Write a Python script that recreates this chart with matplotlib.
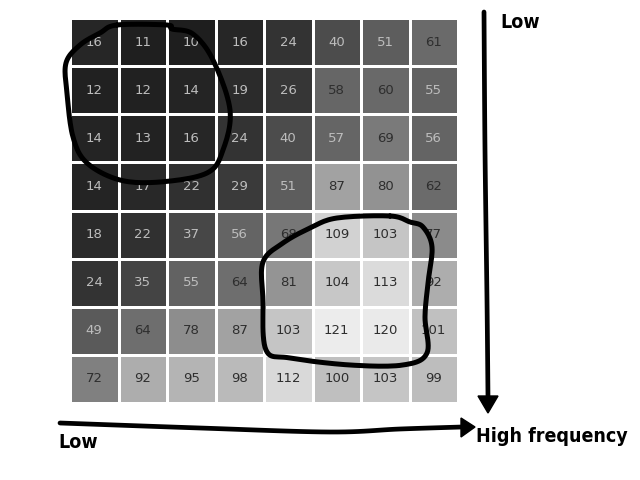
import numpy as np
import matplotlib
matplotlib.use("Agg")
import matplotlib.pyplot as plt
from matplotlib.colors import LinearSegmentedColormap, Normalize
from matplotlib.patches import Polygon

# JPEG luminance quantization table (row = vertical frequency, col = horizontal)
row0 = [16, 11, 10, 16, 24, 40, 51, 61]
row1 = [12, 12, 14, 19, 26, 58, 60, 55]
row2 = [14, 13, 16, 24, 40, 57, 69, 56]
row3 = [14, 17, 22, 29, 51, 87, 80, 62]
row4 = [18, 22, 37, 56, 68, 109, 103, 77]
row5 = [24, 35, 55, 64, 81, 104, 113, 92]
row6 = [49, 64, 78, 87, 103, 121, 120, 101]
row7 = [72, 92, 95, 98, 112, 100, 103, 99]
table = np.array([row0, row1, row2, row3, row4, row5, row6, row7])

label_low = "Low"
label_high = "High frequency"

vmin, vmax = 10, 121
nodes = [(10, "#1e1e1e"), (24, "#333333"), (49, "#5a5a5a"), (64, "#6e6e6e"),
         (87, "#a2a2a2"), (121, "#ececec")]
cmap = LinearSegmentedColormap.from_list(
    "q", [((v - vmin) / (vmax - vmin), c) for v, c in nodes])
norm = Normalize(vmin, vmax)

fig = plt.figure(figsize=(6.4, 4.8), dpi=100)
ax = fig.add_axes([70 / 640, 1 - 403 / 480, 388 / 640, 385 / 480])
n = table.shape[0]
ax.pcolormesh(np.arange(n + 1), np.arange(n + 1), table, cmap=cmap, norm=norm,
              edgecolors="white", linewidth=2)
ax.set_xlim(0, n)
ax.set_ylim(n, 0)
ax.set_axis_off()
for i in range(n):
    for j in range(n):
        v = table[i, j]
        col = "#2e2e2e" if v >= 58 else "#bdbdbd"
        ax.text(j + 0.5, i + 0.5, str(v), ha="center", va="center",
                fontsize=9.5, color=col)

# hand-drawn overlay (figure pixel coordinates)
ov = fig.add_axes([0, 0, 1, 1])
ov.set_xlim(0, 640)
ov.set_ylim(480, 0)
ov.set_axis_off()
ov.patch.set_alpha(0)


def smooth(pts, closed=True, k=12):
    p = np.array(pts, float)
    if closed:
        p = np.vstack([p[-2], p, p[1]])
    else:
        p = np.vstack([p[0], p, p[-1]])
    out = []
    for i in range(1, len(p) - 2):
        p0, p1, p2, p3 = p[i - 1], p[i], p[i + 1], p[i + 2]
        for t in np.linspace(0, 1, k, endpoint=False):
            t2, t3 = t * t, t * t * t
            out.append(0.5 * (2 * p1 + (-p0 + p2) * t
                              + (2 * p0 - 5 * p1 + 4 * p2 - p3) * t2
                              + (-p0 + 3 * p1 - 3 * p2 + p3) * t3))
    out.append(p[-2])
    return np.array(out)


loop1 = [(117, 25), (167, 25), (172, 29), (193, 34), (213, 60), (230, 110),
         (223, 150), (207, 173), (160, 182), (120, 180), (87, 163), (73, 137),
         (67, 93), (66, 63), (80, 45), (100, 33), (117, 25)]
loop2 = [(390, 216), (337, 218), (310, 228), (283, 243), (263, 262), (263, 300),
         (266, 350), (290, 358), (350, 365), (403, 365), (427, 353), (425, 317),
         (428, 283), (432, 247), (423, 227), (410, 222), (390, 216)]
for loop in (loop1, loop2):
    s = smooth(loop)
    ov.plot(s[:, 0], s[:, 1], color="black", lw=3.6, solid_capstyle="round",
            solid_joinstyle="round")

# vertical arrow
s = smooth([(484, 12), (485, 150), (487, 300), (488, 398)], closed=False)
ov.plot(s[:, 0], s[:, 1], color="black", lw=3.4, solid_capstyle="round")
ov.add_patch(Polygon([(478, 396), (498, 396), (488, 413)], closed=True,
                     color="black"))
# horizontal arrow
s = smooth([(60, 423), (200, 428), (330, 432), (400, 429), (462, 427)],
           closed=False)
ov.plot(s[:, 0], s[:, 1], color="black", lw=3.4, solid_capstyle="round")
ov.add_patch(Polygon([(461, 418), (461, 437), (475, 427)], closed=True,
                     color="black"))

fam = ["DejaVu Sans"]
kw = dict(fontsize=14, fontweight="bold", family=fam, fontstretch="condensed",
          va="center", ha="left")
ov.text(500, 22, label_low, **kw)
ov.text(58, 442, label_low, **kw)
ov.text(476, 437, label_high, **kw)

fig.savefig("out.png", dpi=100)
